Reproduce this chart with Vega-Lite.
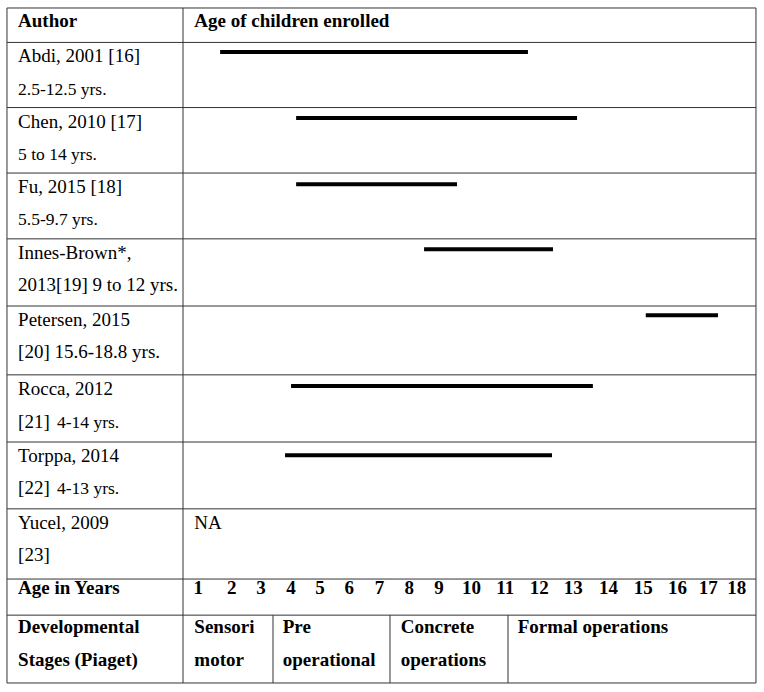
{
  "$schema": "https://vega.github.io/schema/vega-lite/v6.json",
  "width": 764,
  "height": 692,
  "autosize": {"type": "fit", "contains": "padding"},
  "padding": 0,
  "background": "white",
  "config": {"view": {"stroke": null}},
  "datasets": {
    "grid": [
      {"x": -5.04, "x2": 18.61, "y": 0, "y2": 0},
      {"x": -5.04, "x2": 18.61, "y": 1.02, "y2": 1.02},
      {"x": -5.04, "x2": 18.61, "y": 2.95, "y2": 2.95},
      {"x": -5.04, "x2": 18.61, "y": 4.89, "y2": 4.89},
      {"x": -5.04, "x2": 18.61, "y": 6.84, "y2": 6.84},
      {"x": -5.04, "x2": 18.61, "y": 8.83, "y2": 8.83},
      {"x": -5.04, "x2": 18.61, "y": 10.87, "y2": 10.87},
      {"x": -5.04, "x2": 18.61, "y": 12.86, "y2": 12.86},
      {"x": -5.04, "x2": 18.61, "y": 14.84, "y2": 14.84},
      {"x": -5.04, "x2": 18.61, "y": 16.92, "y2": 16.92},
      {"x": -5.04, "x2": 18.61, "y": 17.99, "y2": 17.99},
      {"x": -5.04, "x2": 18.61, "y": 20, "y2": 20},
      {"x": -5.04, "x2": -5.04, "y": 0, "y2": 20},
      {"x": 0.518, "x2": 0.518, "y": 0, "y2": 20},
      {"x": 18.61, "x2": 18.61, "y": 0, "y2": 20},
      {"x": 3.36, "x2": 3.36, "y": 17.99, "y2": 20},
      {"x": 7.054, "x2": 7.054, "y": 17.99, "y2": 20},
      {"x": 10.78, "x2": 10.78, "y": 17.99, "y2": 20}
    ],
    "bars": [
      {"author": "Abdi", "start": 1.69, "end": 11.41, "line": 1.304},
      {"author": "Chen", "start": 4.09, "end": 12.96, "line": 3.259},
      {"author": "Fu", "start": 4.09, "end": 9.17, "line": 5.224},
      {"author": "Innes-Brown", "start": 8.13, "end": 12.2, "line": 7.15},
      {"author": "Petersen", "start": 15.13, "end": 17.41, "line": 9.105},
      {"author": "Rocca", "start": 3.93, "end": 13.46, "line": 11.2},
      {"author": "Torppa", "start": 3.74, "end": 12.17, "line": 13.25}
    ],
    "texts": [
      {"text": "Author", "x": -4.69, "y": 0.572, "role": "bold"},
      {"text": "Age of children enrolled", "x": 0.875, "y": 0.572, "role": "bold"},
      {"text": "Age in Years", "x": -4.69, "y": 17.378, "role": "bold"},
      {"text": "Developmental", "x": -4.69, "y": 18.519, "role": "bold"},
      {"text": "Stages (Piaget)", "x": -4.69, "y": 19.511, "role": "bold"},
      {"text": "Sensori", "x": 0.875, "y": 18.519, "role": "bold"},
      {"text": "motor", "x": 0.875, "y": 19.511, "role": "bold"},
      {"text": "Pre", "x": 3.666, "y": 18.519, "role": "bold"},
      {"text": "operational", "x": 3.666, "y": 19.511, "role": "bold"},
      {"text": "Concrete", "x": 7.392, "y": 18.519, "role": "bold"},
      {"text": "operations", "x": 7.392, "y": 19.511, "role": "bold"},
      {"text": "Formal operations", "x": 11.086, "y": 18.519, "role": "bold"},
      {"text": "Abdi, 2001 [16]", "x": -4.69, "y": 1.609, "role": "regular"},
      {"text": "Chen, 2010 [17]", "x": -4.69, "y": 3.541, "role": "regular"},
      {"text": "Fu, 2015 [18]", "x": -4.69, "y": 5.481, "role": "regular"},
      {"text": "Innes-Brown*,", "x": -4.69, "y": 7.437, "role": "regular"},
      {"text": "2013[19] 9 to 12 yrs.", "x": -4.69, "y": 8.4, "role": "regular"},
      {"text": "Petersen, 2015", "x": -4.69, "y": 9.422, "role": "regular"},
      {"text": "[20] 15.6-18.8 yrs.", "x": -4.69, "y": 10.385, "role": "regular"},
      {"text": "Rocca, 2012", "x": -4.69, "y": 11.467, "role": "regular"},
      {"text": "[21]", "x": -4.69, "y": 12.43, "role": "regular"},
      {"text": "Torppa, 2014", "x": -4.69, "y": 13.452, "role": "regular"},
      {"text": "[22]", "x": -4.69, "y": 14.415, "role": "regular"},
      {"text": "Yucel, 2009", "x": -4.69, "y": 15.437, "role": "regular"},
      {"text": "[23]", "x": -4.69, "y": 16.4, "role": "regular"},
      {"text": "NA", "x": 0.875, "y": 15.437, "role": "regular"},
      {"text": "2.5-12.5 yrs.", "x": -4.69, "y": 2.572, "role": "small"},
      {"text": "5 to 14 yrs.", "x": -4.69, "y": 4.504, "role": "small"},
      {"text": "5.5-9.7 yrs.", "x": -4.69, "y": 6.444, "role": "small"},
      {"text": "4-14 yrs.", "x": -3.46, "y": 12.43, "role": "small"},
      {"text": "4-13 yrs.", "x": -3.46, "y": 14.415, "role": "small"}
    ],
    "ticks": [
      {"age": "1", "pos": 1.0},
      {"age": "2", "pos": 2.06},
      {"age": "3", "pos": 2.98},
      {"age": "4", "pos": 3.93},
      {"age": "5", "pos": 4.84},
      {"age": "6", "pos": 5.77},
      {"age": "7", "pos": 6.72},
      {"age": "8", "pos": 7.66},
      {"age": "9", "pos": 8.6},
      {"age": "10", "pos": 9.63},
      {"age": "11", "pos": 10.69},
      {"age": "12", "pos": 11.77},
      {"age": "13", "pos": 12.84},
      {"age": "14", "pos": 13.95},
      {"age": "15", "pos": 15.05},
      {"age": "16", "pos": 16.13},
      {"age": "17", "pos": 17.1},
      {"age": "18", "pos": 18.0}
    ]
  },
  "layer": [
    {
      "data": {"name": "grid"},
      "mark": {"type": "rule", "color": "#333", "strokeWidth": 1},
      "encoding": {
        "x": {"field": "x", "type": "quantitative", "scale": {"domain": [-5.2605, 18.8633], "nice": false, "zero": false}, "axis": null},
        "x2": {"field": "x2"},
        "y": {"field": "y", "type": "quantitative", "scale": {"domain": [-0.237, 20.267], "nice": false, "zero": false, "reverse": true}, "axis": null},
        "y2": {"field": "y2"}
      }
    },
    {
      "data": {"name": "bars"},
      "mark": {"type": "rule", "color": "#000", "strokeWidth": 4},
      "encoding": {
        "x": {"field": "start", "type": "quantitative", "scale": {"domain": [-5.2605, 18.8633], "nice": false, "zero": false}, "axis": null},
        "x2": {"field": "end"},
        "y": {"field": "line", "type": "quantitative", "scale": {"domain": [-0.237, 20.267], "nice": false, "zero": false, "reverse": true}, "axis": null}
      }
    },
    {
      "data": {"name": "texts"},
      "transform": [{"filter": "datum.role === 'bold'"}],
      "mark": {"type": "text", "align": "left", "baseline": "alphabetic", "fontSize": 19, "fontWeight": "bold", "font": "'Liberation Serif', 'Times New Roman', Times, 'DejaVu Serif', serif", "color": "#000"},
      "encoding": {
        "x": {"field": "x", "type": "quantitative", "scale": {"domain": [-5.2605, 18.8633], "nice": false, "zero": false}, "axis": null},
        "y": {"field": "y", "type": "quantitative", "scale": {"domain": [-0.237, 20.267], "nice": false, "zero": false, "reverse": true}, "axis": null},
        "text": {"field": "text"}
      }
    },
    {
      "data": {"name": "texts"},
      "transform": [{"filter": "datum.role === 'regular'"}],
      "mark": {"type": "text", "align": "left", "baseline": "alphabetic", "fontSize": 19, "font": "'Liberation Serif', 'Times New Roman', Times, 'DejaVu Serif', serif", "color": "#000"},
      "encoding": {
        "x": {"field": "x", "type": "quantitative", "scale": {"domain": [-5.2605, 18.8633], "nice": false, "zero": false}, "axis": null},
        "y": {"field": "y", "type": "quantitative", "scale": {"domain": [-0.237, 20.267], "nice": false, "zero": false, "reverse": true}, "axis": null},
        "text": {"field": "text"}
      }
    },
    {
      "data": {"name": "texts"},
      "transform": [{"filter": "datum.role === 'small'"}],
      "mark": {"type": "text", "align": "left", "baseline": "alphabetic", "fontSize": 17.5, "font": "'Liberation Serif', 'Times New Roman', Times, 'DejaVu Serif', serif", "color": "#000"},
      "encoding": {
        "x": {"field": "x", "type": "quantitative", "scale": {"domain": [-5.2605, 18.8633], "nice": false, "zero": false}, "axis": null},
        "y": {"field": "y", "type": "quantitative", "scale": {"domain": [-0.237, 20.267], "nice": false, "zero": false, "reverse": true}, "axis": null},
        "text": {"field": "text"}
      }
    },
    {
      "data": {"name": "ticks"},
      "mark": {"type": "text", "align": "center", "baseline": "alphabetic", "fontSize": 19, "fontWeight": "bold", "font": "'Liberation Serif', 'Times New Roman', Times, 'DejaVu Serif', serif", "color": "#000"},
      "encoding": {
        "x": {"field": "pos", "type": "quantitative", "scale": {"domain": [-5.2605, 18.8633], "nice": false, "zero": false}, "axis": null},
        "y": {"datum": 17.378, "type": "quantitative", "scale": {"domain": [-0.237, 20.267], "nice": false, "zero": false, "reverse": true}, "axis": null},
        "text": {"field": "age"}
      }
    }
  ]
}
